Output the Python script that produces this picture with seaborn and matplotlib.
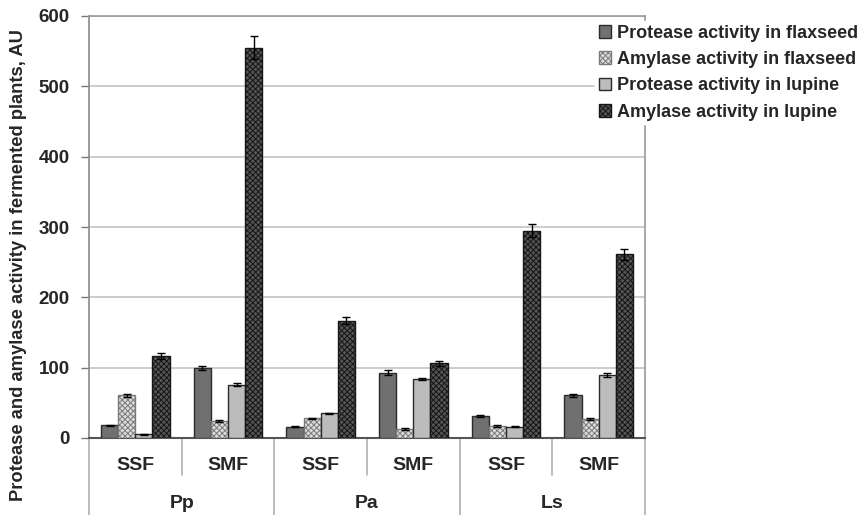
import numpy as np
import pandas as pd
import matplotlib
matplotlib.use("Agg")
import matplotlib.pyplot as plt
import matplotlib.transforms as mtransforms
import seaborn as sns

# Data
strains = ["Pp", "Pa", "Ls"]
modes = ["SSF", "SMF"]
series = ["Protease activity in flaxseed", "Amylase activity in flaxseed",
          "Protease activity in lupine", "Amylase activity in lupine"]

protease_flax = [18, 100, 16, 93, 31, 61]
amylase_flax = [61, 24, 28, 13, 17, 27]
protease_lupine = [5, 76, 35, 84, 16, 90]
amylase_lupine = [117, 555, 167, 106, 295, 261]

protease_flax_err = [1, 3, 1, 3, 1, 2]
amylase_flax_err = [2, 1, 1, 1, 1, 1]
protease_lupine_err = [1, 2, 1, 2, 1, 3]
amylase_lupine_err = [4, 16, 5, 4, 9, 8]

# Style
sns.set_style("white")
plt.rcParams["font.family"] = ["Liberation Sans", "DejaVu Sans"]
plt.rcParams["font.weight"] = "bold"
plt.rcParams["hatch.linewidth"] = 0.7

conds = [f"{s} {m}" for s in strains for m in modes]
values = [protease_flax, amylase_flax, protease_lupine, amylase_lupine]
errors = [protease_flax_err, amylase_flax_err, protease_lupine_err, amylase_lupine_err]

rows = []
for name, vals, errs in zip(series, values, errors):
    for c, v, e in zip(conds, vals, errs):
        rows.append({"cond": c, "series": name, "value": v, "err": e})
df = pd.DataFrame(rows)

faces = ["#707070", "#dcdcdc", "#bcbcbc", "#555555"]
hatches = [None, "xxxxxx", None, "xxxxxx"]
hatch_edges = ["#2a2a2a", "#7a7a7a", "#2a2a2a", "#161616"]

fig = plt.figure(figsize=(8.62, 5.15), dpi=100)
ax = fig.add_axes([89 / 862, 77 / 515, (645 - 89) / 862, (438 - 16) / 515])

sns.barplot(data=df, x="cond", y="value", hue="series", order=conds,
            hue_order=series, palette=faces, width=0.74, errorbar=None,
            edgecolor="#2a2a2a", linewidth=1.0, saturation=1, ax=ax, zorder=3)

# style each series and add error bars
bar_groups = list(ax.containers)
for i, cont in enumerate(bar_groups):
    for bar in cont:
        if hatches[i]:
            bar.set_hatch(hatches[i])
            bar.set_edgecolor(hatch_edges[i])
    xs = [b.get_x() + b.get_width() / 2 for b in cont]
    ax.errorbar(xs, values[i], yerr=errors[i], fmt="none", ecolor="black",
                elinewidth=1.0, capsize=3, capthick=1.0, zorder=4)

ax.set_ylim(0, 600)
ax.set_xlim(-0.5, 5.5)
ax.set_yticks(range(0, 601, 100))
ax.tick_params(axis="y", direction="out", length=6, width=1, color="#777777",
               labelsize=13.5, pad=8, left=True)
for lab in ax.get_yticklabels():
    lab.set_fontweight("bold")
ax.yaxis.grid(True, color="#c4c4c4", linewidth=1.2, zorder=0)
ax.set_axisbelow(True)

ax.set_xticks(range(6))
ax.set_xticklabels([])
ax.tick_params(axis="x", length=0)
ax.set_xlabel("")
ax.set_ylabel("")
fig.text(19 / 862, 1 - 265 / 515,
         "Protease and amylase activity in fermented plants, AU",
         rotation=90, ha="center", va="center", fontsize=13.2, fontweight="bold")

for side in ["top", "right"]:
    ax.spines[side].set_color("#9a9a9a")
    ax.spines[side].set_linewidth(1.2)
ax.spines["left"].set_color("#8a8a8a")
ax.spines["bottom"].set_color("#555555")
ax.spines["left"].set_linewidth(1.2)
ax.spines["bottom"].set_linewidth(1.5)

# two-level category axis
trans = mtransforms.blended_transform_factory(ax.transData, ax.transAxes)
for k, c in enumerate(conds):
    ax.text(k, -0.066, c.split()[1], transform=trans, ha="center", va="center",
            fontsize=14, fontweight="bold")
for j, s in enumerate(strains):
    ax.text(2 * j + 0.5, -0.155, s, transform=trans, ha="center", va="center",
            fontsize=14, fontweight="bold")
for x in [0.5, 2.5, 4.5]:
    ax.plot([x, x], [0, -0.088], transform=trans, color="#b0b0b0", lw=1.2,
            clip_on=False)
for x in [-0.5, 1.5, 3.5, 5.5]:
    ax.plot([x, x], [0, -0.185], transform=trans, color="#b0b0b0", lw=1.2,
            clip_on=False)

# legend
handles, labels = ax.get_legend_handles_labels()
for i, h in enumerate(handles):
    if hatches[i]:
        h.set_hatch(hatches[i])
        h.set_edgecolor(hatch_edges[i])
leg = ax.legend(handles, labels, loc="upper left",
                bbox_to_anchor=(595 / 862, 1 - 21 / 515),
                bbox_transform=fig.transFigure, frameon=True, fancybox=False,
                framealpha=1, edgecolor="white", facecolor="white",
                fontsize=13, handlelength=0.7, handleheight=0.7,
                handletextpad=0.3, labelspacing=0.52, borderpad=0.2,
                borderaxespad=0)
leg.set_zorder(10)
for t in leg.get_texts():
    t.set_fontweight("bold")

fig.savefig("out.png", dpi=100)
